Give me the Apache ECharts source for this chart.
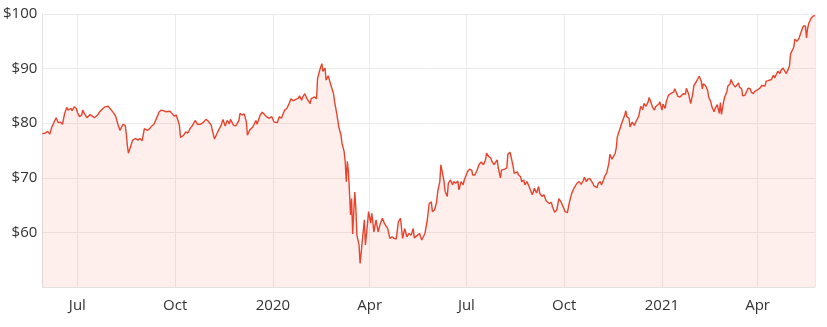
<!DOCTYPE html>
<html>
<head>
<meta charset="utf-8">
<script src="https://cdn.jsdelivr.net/npm/echarts@6/dist/echarts.min.js"></script>
<style>
html,body{margin:0;padding:0;background:#fff;}
#chart{width:827px;height:327px;}
</style>
</head>
<body>
<div id="chart"></div>
<script>
// Months covered by the series
const months = ['2019-05','2019-06','2019-07','2019-08','2019-09','2019-10','2019-11','2019-12',
  '2020-01','2020-02','2020-03','2020-04','2020-05','2020-06','2020-07','2020-08','2020-09','2020-10','2020-11','2020-12',
  '2021-01','2021-02','2021-03','2021-04','2021-05'];

// Days of each month that carry a price point
const days = [
  [29],
  [1,3,5,7,11,13,15,17,19,21,22,25,26,28,30],
  [1,3,5,6,8,10,13,15,17,20,22,23,25,27,30,31],
  [2,4,6,8,10,11,13,15,16,17,18,20,22,25,27,29,31],
  [2,5,7,9,11,13,16,18,20,22,26,28,30],
  [2,3,5,6,9,11,13,15,17,20,22,25,27,30],
  [1,4,5,7,10,13,15,17,19,21,22,25,27,30],
  [1,3,5,7,8,10,13,14,16,17,20,22,24,26,28,31],
  [2,5,6,7,9,12,14,16,18,20,22,25,26,28,29,31],
  [2,5,6,9,11,12,14,16,17,19,20,22,23,24,27,28],
  [1,3,5,6,8,9,10,11,12,13,14,15,16,18,19,20,22,23,25,27,28,30,31],
  [2,3,5,7,9,11,13,15,18,20,22,24,26,28,30],
  [2,4,6,8,10,12,13,16,18,20,23,25,27,29,30],
  [1,3,4,6,7,8,10,11,13,14,16,18,19,21,23,24,26,28,29],
  [2,4,6,7,9,11,13,15,17,19,20,22,24,25,27,28,30,31],
  [2,3,6,8,9,11,12,14,15,18,19,21,22,24,25,27,29,30],
  [1,3,5,7,8,10,12,14,15,17,19,20,22,24,26,28,30],
  [2,4,6,8,10,11,13,15,17,19,20,22,23,25,26,28,29],
  [1,2,4,5,7,8,10,12,13,15,16,18,19,20,22,24,25,27,28,29],
  [1,2,4,6,8,10,11,12,14,15,17,19,20,22,23,25,26,29,30],
  [1,2,4,5,7,9,10,12,13,15,16,18,19,21,23,24,26,27,28,30,31],
  [2,3,5,7,8,9,11,13,14,16,17,19,20,22,24,25,26,28],
  [1,3,4,6,7,9,11,12,14,15,17,18,20,21,23,25,26,28,29,31],
  [1,3,5,6,8,9,11,12,14,16,17,19,20,22,23,25,26,28,30],
  [1,2,3,5,6,8,10,11,13,14,16,17,18,19,20,21,23,25]
];

// Share price ($) for each of those days
const prices = [
  [78.1],
  [78.2,78.5,78.0,79.3,81.0,80.1,80.2,79.8,81.8,82.9,82.4,82.7,82.3,83.0,82.7],
  [82.0,81.2,81.5,82.4,81.6,81.0,81.6,81.3,81.0,81.5,82.1,81.8,82.7,83.0,83.1,83.4],
  [82.4,81.9,81.3,79.9,78.7,79.0,79.8,79.6,78.1,76.0,74.5,75.7,76.9,77.2,76.9,77.2,76.8],
  [79.0,78.7,79.0,79.5,79.8,80.7,82.1,82.4,82.3,82.1,82.2,81.8,81.3],
  [81.5,80.9,79.6,77.4,77.8,78.4,78.2,79.0,79.5,80.5,79.8,79.8,80.1,80.7],
  [80.4,79.6,78.7,77.1,78.4,79.5,80.7,79.5,80.5,79.9,80.7,79.6,79.5,80.5],
  [81.8,81.5,81.7,80.2,77.8,78.7,79.3,79.6,80.5,79.8,81.5,82.0,81.6,81.2,80.9,81.2],
  [80.2,80.1,79.8,81.2,80.9,82.4,82.7,83.5,84.5,84.1,84.3,84.6,85.0,84.2,84.8,85.4],
  [84.5,83.6,84.5,84.8,84.5,88.2,89.7,90.9,89.5,90.1,87.9,88.7,88.9,87.3,85.4,83.9],
  [81.8,79.3,77.8,76.3,74.8,72.9,69.3,73.0,71.1,67.4,63.2,66.2,59.7,67.4,64.4,59.5,57.7,54.3,58.3,62.3,57.7,61.7,63.8],
  [61.7,63.5,60.1,62.3,60.1,61.6,62.6,61.6,60.7,58.9,59.2,58.9,58.8,61.9,62.6],
  [58.9,60.7,59.2,59.8,59.5,60.7,59.0,59.5,59.8,58.6,59.8,62.0,65.3,65.6,63.8],
  [64.1,65.6,67.5,69.3,72.4,72.1,69.3,67.5,66.6,69.0,69.6,68.7,69.3,69.0,69.4,67.8,69.3,68.7,69.6],
  [71.1,71.6,71.4,70.5,70.5,71.4,72.5,72.9,72.4,73.3,74.5,73.9,73.6,73.0,72.4,72.7,73.3,71.8],
  [70.0,71.4,71.6,71.8,74.3,74.7,73.9,72.1,70.8,71.1,70.5,70.2,69.3,69.6,68.7,69.3,68.4,68.7],
  [66.9,68.1,67.2,68.4,67.2,66.6,66.9,65.8,66.0,65.3,65.5,64.7,63.7,64.1,66.2,65.6,64.7],
  [63.8,63.6,65.6,67.1,68.0,67.7,69.0,69.3,68.8,69.5,70.1,69.3,69.7,69.9,69.6,69.0,68.5],
  [68.2,69.0,69.3,68.7,69.6,70.2,70.9,72.6,74.3,73.4,73.2,74.5,75.5,77.5,78.7,79.9,79.6,81.5,82.3,81.2],
  [80.9,79.3,80.2,79.6,80.5,81.2,82.1,83.1,82.5,83.6,83.1,83.9,84.7,83.6,83.0,82.4,83.0,83.5,83.9],
  [82.4,83.5,82.7,83.9,85.1,85.4,85.6,85.7,86.3,85.4,84.9,84.8,84.7,85.4,85.3,86.4,85.4,85.1,83.6,85.4,86.9],
  [87.5,87.8,88.6,87.7,86.3,87.2,86.9,86.0,84.8,83.9,83.0,82.1,82.7,83.4,81.8,83.8,81.6,83.9],
  [84.8,85.7,86.8,87.2,88.0,87.1,86.6,86.6,87.4,86.6,86.3,85.0,85.1,84.8,86.4,86.3,85.7,85.4,85.8,86.0],
  [86.2,86.4,86.9,87.1,86.8,87.7,87.8,88.1,88.0,88.8,88.3,89.1,89.5,89.1,89.7,90.1,89.7,89.1,90.0],
  [90.5,92.7,93.0,93.9,95.4,95.0,95.6,95.9,97.3,97.8,97.8,95.6,97.3,98.2,98.5,99.1,99.6,99.7]
];

// Axis labels
const yTickValues = [60, 70, 80, 90, 100];
const monthNames = ['Jan','Feb','Mar','Apr','May','Jun','Jul','Aug','Sep','Oct','Nov','Dec'];

const seriesData = [];
months.forEach((m, i) => {
  days[i].forEach((d, j) => {
    seriesData.push([m + '-' + String(d).padStart(2, '0'), prices[i][j]]);
  });
});

const FONT = '"Open Sans", "DejaVu Sans", sans-serif';
const chart = echarts.init(document.getElementById('chart'), null, {renderer: 'canvas'});
chart.setOption({
  animation: false,
  backgroundColor: '#ffffff',
  grid: {left: 41, right: 12, top: 14, bottom: 40, containLabel: false},
  xAxis: {
    type: 'time',
    splitNumber: 8,
    axisLine: {show: true, lineStyle: {color: '#e2e2e2', width: 1}},
    axisTick: {show: false},
    axisLabel: {
      color: '#333333', fontSize: 15, fontFamily: FONT, margin: 11, hideOverlap: false,
      formatter: function (val) {
        const d = new Date(val);
        return d.getMonth() === 0 ? String(d.getFullYear()) : monthNames[d.getMonth()];
      }
    },
    splitLine: {show: true, lineStyle: {color: '#ebebeb', width: 1}}
  },
  yAxis: {
    type: 'value', min: 50, max: 100, interval: 10,
    axisLine: {show: true, lineStyle: {color: '#e2e2e2', width: 1}},
    axisTick: {show: false},
    axisLabel: {
      color: '#333333', fontSize: 15, fontFamily: FONT, margin: 5,
      formatter: function (v) { return yTickValues.indexOf(v) >= 0 ? '$' + v : ''; }
    },
    splitLine: {show: true, lineStyle: {color: '#ebebeb', width: 1}}
  },
  series: [{
    type: 'line',
    data: seriesData,
    symbol: 'none',
    showSymbol: false,
    lineStyle: {color: '#e8442d', width: 1.4},
    itemStyle: {color: '#e8442d'},
    areaStyle: {color: 'rgba(244, 84, 60, 0.14)'}
  }]
});
</script>
</body>
</html>
